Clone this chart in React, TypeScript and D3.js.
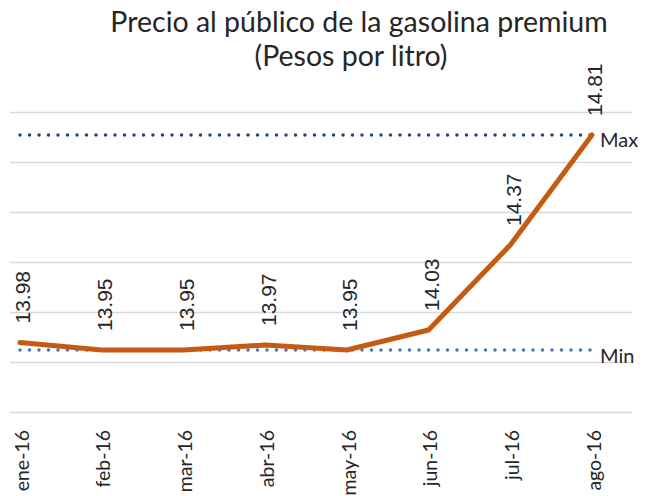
import React from "react";
import * as d3 from "d3";

const months = ["ene-16", "feb-16", "mar-16", "abr-16", "may-16", "jun-16", "jul-16", "ago-16"];
const prices = [13.98, 13.95, 13.95, 13.97, 13.95, 14.03, 14.37, 14.81];
const gridTicks = [13.7, 13.9, 14.1, 14.3, 14.5, 14.7, 14.9];
const titleLines = ["Precio al público de la gasolina premium", "(Pesos por litro)"];

const W = 654;
const H = 496;

export default function App() {
  const x = d3.scalePoint<string>().domain(months).range([20, 592]);
  const y = d3.scaleLinear().domain([13.7, 14.9]).range([412.5, 112.5]);
  const maxV = d3.max(prices) as number;
  const minV = d3.min(prices) as number;
  const line = d3
    .line<number>()
    .x((_, i) => x(months[i]) as number)
    .y((d) => y(d));
  const x0 = x(months[0]) as number;
  const x1 = x(months[months.length - 1]) as number;
  const sans = "Lato, 'Open Sans', sans-serif";
  return (
    <svg
      width={W}
      height={H}
      style={{ position: "absolute", left: 0, top: 0, background: "#fff" }}
    >
      <text x={359} y={32} textAnchor="middle" fontFamily={sans} fontSize={28.5} fill="#262626">
        {titleLines[0]}
      </text>
      <text x={351} y={66} textAnchor="middle" fontFamily={sans} fontSize={28.5} fill="#262626">
        {titleLines[1]}
      </text>
      {gridTicks.map((t) => (
        <line key={t} x1={10} x2={632} y1={y(t)} y2={y(t)} stroke="#d9d9d9" strokeWidth={1.5} />
      ))}
      <line
        x1={x0}
        x2={x1}
        y1={y(maxV)}
        y2={y(maxV)}
        stroke="#264478"
        strokeWidth={3.5}
        strokeDasharray="0 9.5"
        strokeLinecap="round"
      />
      <line
        x1={x0}
        x2={x1}
        y1={y(minV)}
        y2={y(minV)}
        stroke="#4472c4"
        strokeWidth={3.5}
        strokeDasharray="0 9.5"
        strokeLinecap="round"
      />
      <text x={600} y={y(maxV) + 12} fontFamily={sans} fontSize={20} fill="#262626">Max</text>
      <text x={600} y={y(minV) + 13} fontFamily={sans} fontSize={20} fill="#262626">Min</text>
      <path
        d={line(prices) || ""}
        fill="none"
        stroke="#c55a11"
        strokeWidth={5}
        strokeLinejoin="round"
        strokeLinecap="round"
      />
      {prices.map((v, i) => (
        <text
          key={i}
          transform={`translate(${(x(months[i]) as number) + 3},${y(v) - 19}) rotate(-90)`}
          dy="0.35em"
          fontFamily="'Liberation Sans', Arial, sans-serif"
          fontSize={21}
          fill="#262626"
        >
          {v.toFixed(2)}
        </text>
      ))}
      {months.map((m) => (
        <text
          key={m}
          transform={`translate(${x(m) as number},430) rotate(-90)`}
          dy="0.45em"
          textAnchor="end"
          fontFamily={sans}
          fontSize={19.5}
          fill="#262626"
        >
          {m}
        </text>
      ))}
    </svg>
  );
}
